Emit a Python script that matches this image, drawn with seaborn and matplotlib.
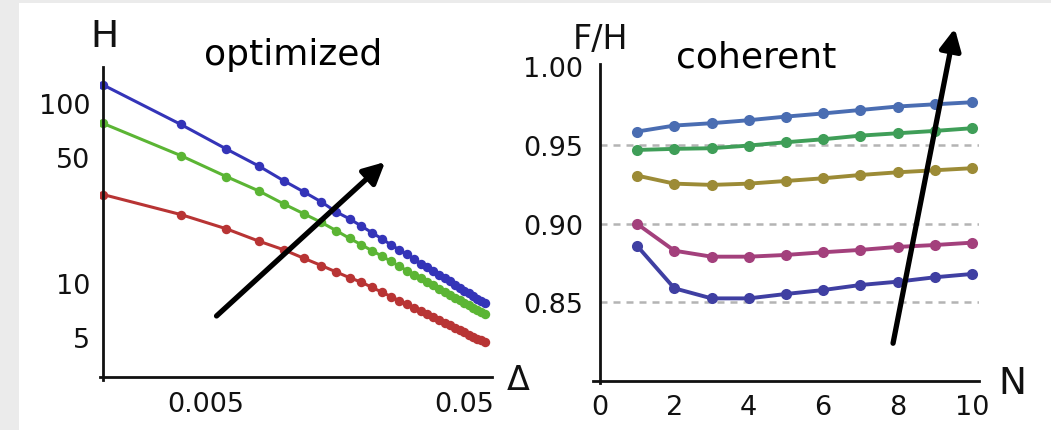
import matplotlib
matplotlib.use("Agg")
import matplotlib.pyplot as plt
import numpy as np
import pandas as pd
import seaborn as sns
from matplotlib.patches import Rectangle
from matplotlib.ticker import FixedLocator, FixedFormatter, NullLocator, MultipleLocator, FormatStrFormatter

# ---------------- data ----------------
delta = [0.002, 0.004, 0.006, 0.008, 0.010, 0.012, 0.014, 0.016, 0.018, 0.020,
         0.022, 0.024, 0.026, 0.028, 0.030, 0.032, 0.034, 0.036, 0.038, 0.040,
         0.042, 0.044, 0.046, 0.048, 0.050, 0.052, 0.054, 0.056, 0.058, 0.060]
H_blue = [126, 76, 55.5, 44.7, 37.0, 32.0, 28.2, 24.8, 22.7, 20.7,
          19.0, 17.6, 16.3, 15.3, 14.4, 13.6, 12.8, 12.2, 11.6, 11.1,
          10.6, 10.2, 9.78, 9.41, 9.07, 8.76, 8.47, 8.19, 7.94, 7.70]
H_green = [77, 51, 39, 32.5, 27.5, 24.2, 21.7, 19.5, 17.7, 16.3,
           15.1, 14.1, 13.2, 12.4, 11.7, 11.1, 10.6, 10.1, 9.69, 9.30,
           8.94, 8.61, 8.30, 8.02, 7.76, 7.52, 7.29, 7.08, 6.88, 6.70]
H_red = [31, 24, 20, 17.1, 15.3, 13.7, 12.5, 11.5, 10.7, 10.1,
         9.45, 8.89, 8.41, 7.98, 7.60, 7.27, 6.97, 6.69, 6.44, 6.22,
         6.01, 5.82, 5.64, 5.47, 5.32, 5.17, 5.04, 4.91, 4.80, 4.68]
left_series = ["blue", "green", "red"]
left_colors = ["#3434b8", "#5bb534", "#b83434"]
left_xticks = [0.005, 0.05]
left_xticklabels = ["0.005", "0.05"]
left_yticks = [5, 10, 50, 100]
left_yticklabels = ["5", "10", "50", "100"]

N = [1, 2, 3, 4, 5, 6, 7, 8, 9, 10]
FH_1 = [0.9585, 0.9623, 0.9638, 0.9657, 0.9680, 0.9700, 0.9722, 0.9744, 0.9758, 0.9771]
FH_2 = [0.9468, 0.9475, 0.9479, 0.9496, 0.9517, 0.9536, 0.9559, 0.9574, 0.9589, 0.9606]
FH_3 = [0.9305, 0.9254, 0.9246, 0.9254, 0.9271, 0.9288, 0.9309, 0.9326, 0.9339, 0.9352]
FH_4 = [0.8998, 0.8828, 0.8790, 0.8790, 0.8801, 0.8818, 0.8833, 0.8852, 0.8864, 0.8879]
FH_5 = [0.8858, 0.8589, 0.8525, 0.8525, 0.8553, 0.8578, 0.8610, 0.8631, 0.8659, 0.8680]
right_series = ["s1", "s2", "s3", "s4", "s5"]
right_colors = ["#4a6db2", "#3f9e58", "#9c8b36", "#a3407c", "#3f3fa2"]
right_yticks = [0.85, 0.90, 0.95, 1.00]
right_xticks = [0, 2, 4, 6, 8, 10]
grid_levels = [0.85, 0.90, 0.95]

# ---------------- style ----------------
sns.set_style("white")
plt.rcParams["font.family"] = ["DejaVu Sans"]
plt.rcParams["axes.linewidth"] = 2.0

fig = plt.figure(figsize=(10.51, 4.31), dpi=100)
fig.patch.set_facecolor("#ebebeb")
fig.add_artist(Rectangle((19 / 1051, 0), 1, 427 / 431, transform=fig.transFigure,
                         facecolor="white", edgecolor="none", zorder=-10))

# ---------------- left panel ----------------
ax1 = fig.add_axes([0.0953, 0.1165, 0.3728, 0.7253])
ax1.set_facecolor("none")
ax1.set_xscale("log")
ax1.set_yscale("log")
df1 = pd.DataFrame({
    "delta": delta * 3,
    "H": H_blue + H_green + H_red,
    "series": [left_series[0]] * len(delta) + [left_series[1]] * len(delta) + [left_series[2]] * len(delta),
})
sns.lineplot(data=df1, x="delta", y="H", hue="series", hue_order=left_series,
             palette=left_colors, marker="o", markersize=6.8, markeredgewidth=0,
             linewidth=2.2, legend=False, ax=ax1)
ax1.set_xlim(0.00195, 0.064)
ax1.set_ylim(2.9, 158)
ax1.spines["top"].set_visible(False)
ax1.spines["right"].set_visible(False)
ax1.spines["left"].set_position(("data", 0.002))
ax1.spines["bottom"].set_position(("data", 3.0))
for s in ("left", "bottom"):
    ax1.spines[s].set_color("#111111")
ax1.xaxis.set_major_locator(FixedLocator(left_xticks))
ax1.xaxis.set_major_formatter(FixedFormatter(left_xticklabels))
ax1.xaxis.set_minor_locator(NullLocator())
ax1.yaxis.set_major_locator(FixedLocator(left_yticks))
ax1.yaxis.set_major_formatter(FixedFormatter(left_yticklabels))
ax1.yaxis.set_minor_locator(NullLocator())
ax1.tick_params(axis="both", which="major", direction="in", length=5, width=1.5,
                labelsize=19.5, colors="#111111")
ax1.tick_params(axis="x", pad=10)
ax1.tick_params(axis="y", pad=9)
ax1.set_xlabel("")
ax1.set_ylabel("")

ax1.annotate("", xy=(0.0247, 47), xytext=(0.0055, 6.56), xycoords="data",
             arrowprops=dict(arrowstyle="-|>", color="black", lw=3.8,
                             mutation_scale=32, shrinkA=0, shrinkB=0),
             annotation_clip=False)

# ---------------- right panel ----------------
ax2 = fig.add_axes([0.5638, 0.1100, 0.3680, 0.7395])
ax2.set_facecolor("none")
ax2.hlines(grid_levels, 0, 10.2, colors="#b4b4b4", linewidth=1.8,
           linestyles=(0, (2.8, 2.4)), zorder=1)
df2 = pd.DataFrame({
    "N": N * 5,
    "FH": FH_1 + FH_2 + FH_3 + FH_4 + FH_5,
    "series": sum([[s] * len(N) for s in right_series], []),
})
sns.lineplot(data=df2, x="N", y="FH", hue="series", hue_order=right_series,
             palette=right_colors, marker="o", markersize=8, markeredgewidth=0,
             linewidth=2.8, legend=False, ax=ax2, zorder=3)
ax2.set_xlim(-0.2, 10.2)
ax2.set_ylim(0.799, 1.0015)
ax2.spines["top"].set_visible(False)
ax2.spines["right"].set_visible(False)
ax2.spines["left"].set_position(("data", 0))
ax2.spines["bottom"].set_position(("data", 0.80))
for s in ("left", "bottom"):
    ax2.spines[s].set_color("#111111")
ax2.xaxis.set_major_locator(FixedLocator(right_xticks))
ax2.xaxis.set_minor_locator(MultipleLocator(0.5))
ax2.yaxis.set_major_locator(FixedLocator(right_yticks))
ax2.yaxis.set_major_formatter(FormatStrFormatter("%.2f"))
ax2.yaxis.set_minor_locator(MultipleLocator(0.01))
ax2.tick_params(axis="both", which="major", direction="in", length=6, width=1.5,
                labelsize=19.5, colors="#111111")
ax2.tick_params(axis="both", which="minor", direction="in", length=3.5, width=1.2,
                colors="#111111")
ax2.tick_params(axis="x", pad=9)
ax2.tick_params(axis="y", pad=12)
ax2.set_xlabel("")
ax2.set_ylabel("")

ax2.annotate("", xy=(9.54, 1.024), xytext=(7.88, 0.824), xycoords="data",
             arrowprops=dict(arrowstyle="-|>", color="black", lw=3.8,
                             mutation_scale=32, shrinkA=0, shrinkB=0),
             annotation_clip=False)

# ---------------- labels / annotations ----------------
fig.text(104 / 1051, 1 - 37 / 431, "H", fontsize=27, ha="center", va="center", color="#111111")
fig.text(518 / 1051, 1 - 381 / 431, "Δ", fontsize=24, ha="center", va="center", color="#111111")
fig.text(601 / 1051, 1 - 40 / 431, "F/H", fontsize=24, ha="center", va="center", color="#111111")
fig.text(1012 / 1051, 1 - 384 / 431, "N", fontsize=27, ha="center", va="center", color="#111111")
fig.text(293 / 1051, 1 - 55 / 431, "optimized", fontsize=26, ha="center", va="center", color="black")
fig.text(756 / 1051, 1 - 57 / 431, "coherent", fontsize=26, ha="center", va="center", color="black")

fig.savefig("out.png", dpi=100, facecolor=fig.get_facecolor())
